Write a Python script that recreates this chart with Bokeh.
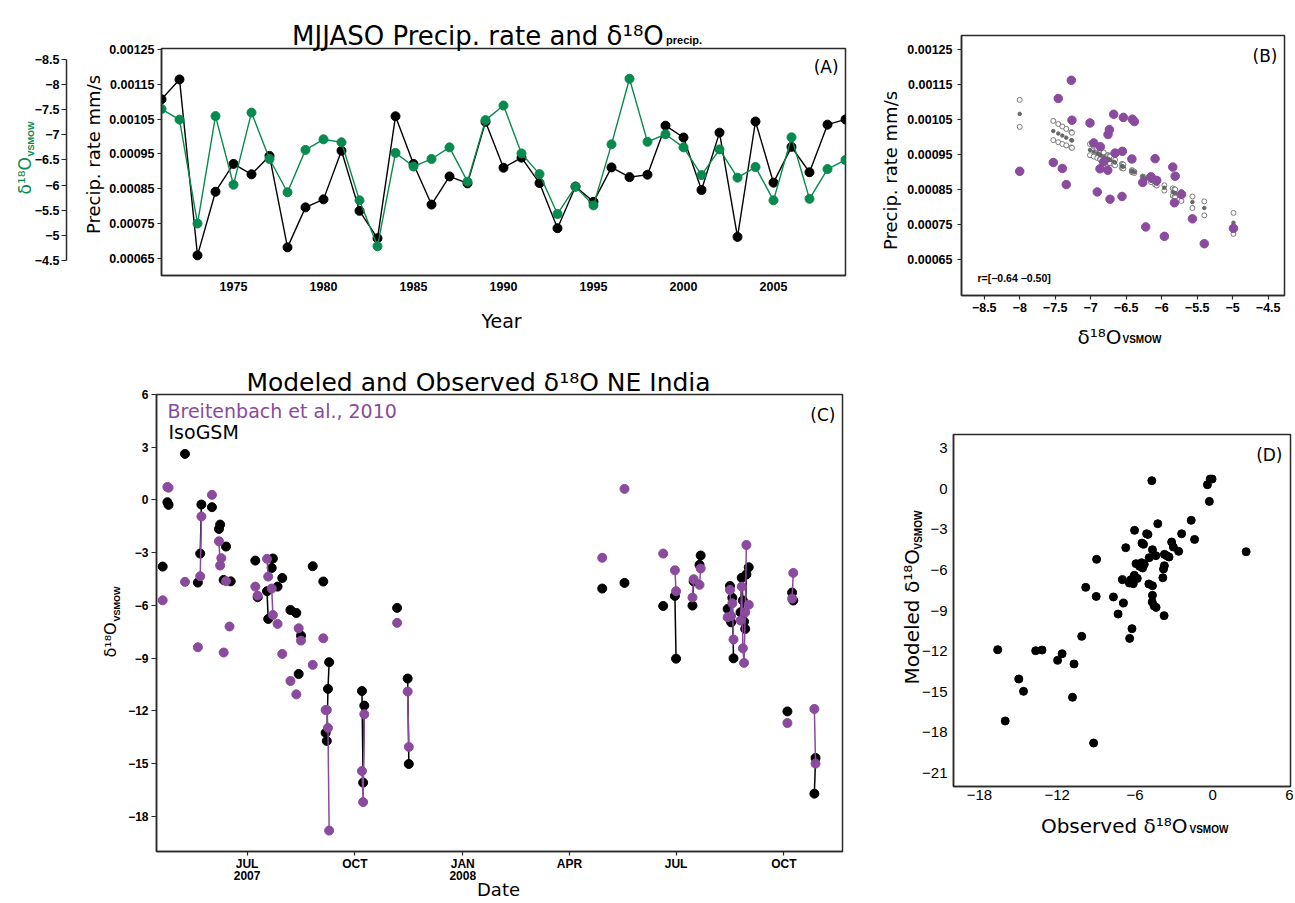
import pandas as pd
from bokeh.plotting import figure
from bokeh.models import Range1d, LinearAxis, FixedTicker, Label
from bokeh.layouts import row, column
from bokeh.embed import file_html
from bokeh.resources import INLINE

# ---------------- Panel A data ----------------
years = list(range(1971, 2010))
precip_rate = [0.001107, 0.001164, 0.000658, 0.000841, 0.000921, 0.000891, 0.000944, 0.000681,
               0.000796, 0.000819, 0.000959, 0.000786, 0.000707, 0.001058, 0.000921, 0.000804,
               0.000885, 0.000865, 0.001042, 0.000910, 0.000939, 0.000866, 0.000736, 0.000856,
               0.000812, 0.000911, 0.000883, 0.000890, 0.001031, 0.000997, 0.000846, 0.001011,
               0.000711, 0.001043, 0.000867, 0.000970, 0.000897, 0.001034, 0.001049]
d18o_precip = [-7.51, -7.30, -5.24, -7.37, -6.01, -7.44, -6.52, -5.86, -6.70, -6.91, -6.85, -5.70,
               -4.79, -6.64, -6.37, -6.52, -6.75, -6.07, -7.29, -7.58, -6.63, -6.22, -5.43, -5.97,
               -5.60, -6.81, -8.11, -6.86, -7.01, -6.75, -6.20, -6.71, -6.15, -6.36, -5.70, -6.95,
               -5.73, -6.32, -6.50]
year_ticks = [1975, 1980, 1985, 1990, 1995, 2000, 2005]
prec_ticks = [0.00065, 0.00075, 0.00085, 0.00095, 0.00105, 0.00115, 0.00125]
prec_tick_labels = ["0.00065", "0.00075", "0.00085", "0.00095", "0.00105", "0.00115", "0.00125"]
d18o_ticks = [-8.5, -8.0, -7.5, -7.0, -6.5, -6.0, -5.5, -5.0, -4.5]
d18o_tick_labels = ["\u22128.5", "\u22128", "\u22127.5", "\u22127", "\u22126.5", "\u22126",
                    "\u22125.5", "\u22125", "\u22124.5"]

# ---------------- Panel B data ----------------
b_d18o = [-8.00, -7.527, -7.457, -7.40, -7.344, -7.273, -7.264, -7.01, -6.958, -6.907, -6.869,
          -6.864, -6.817, -6.76, -6.756, -6.737, -6.728, -6.676, -6.657, -6.559, -6.554, -6.54,
          -6.42, -6.413, -6.385, -6.267, -6.225, -6.15, -6.093, -6.07, -5.962, -5.844, -5.82,
          -5.81, -5.722, -5.567, -5.40, -4.989]
b_precip = [0.000903, 0.000928, 0.001111, 0.000911, 0.000865, 0.001163, 0.001049, 0.001041,
            0.000984, 0.000844, 0.000910, 0.000973, 0.000930, 0.000906, 0.001008, 0.001022,
            0.000823, 0.001066, 0.000955, 0.000831, 0.000960, 0.001057, 0.000938, 0.001052,
            0.001045, 0.000871, 0.000744, 0.000887, 0.000939, 0.000877, 0.000717, 0.000915,
            0.000813, 0.000889, 0.000837, 0.000767, 0.000696, 0.000740]
b_fit = [0.001067, 0.001018, 0.001011, 0.001005, 0.000999, 0.000992, 0.000991, 0.000964,
         0.000959, 0.000954, 0.000950, 0.000949, 0.000944, 0.000939, 0.000938, 0.000936,
         0.000935, 0.000930, 0.000928, 0.000918, 0.000917, 0.000916, 0.000903, 0.000903,
         0.000900, 0.000888, 0.000883, 0.000876, 0.000870, 0.000867, 0.000856, 0.000844,
         0.000841, 0.000840, 0.000831, 0.000815, 0.000798, 0.000756]
b_fit_a = [0.001107, 0.001047, 0.001038, 0.001031, 0.001024, 0.001015, 0.001013, 0.000981,
           0.000975, 0.000968, 0.000963, 0.000963, 0.000957, 0.000949, 0.000949, 0.000947,
           0.000945, 0.000939, 0.000936, 0.000924, 0.000923, 0.000922, 0.000906, 0.000905,
           0.000902, 0.000887, 0.000881, 0.000872, 0.000865, 0.000862, 0.000848, 0.000833,
           0.000830, 0.000829, 0.000818, 0.000798, 0.000777, 0.000724]
b_fit_b = [0.001030, 0.000992, 0.000986, 0.000981, 0.000977, 0.000971, 0.000970, 0.000949,
           0.000945, 0.000941, 0.000938, 0.000937, 0.000933, 0.000929, 0.000928, 0.000927,
           0.000926, 0.000922, 0.000920, 0.000912, 0.000912, 0.000911, 0.000901, 0.000900,
           0.000898, 0.000888, 0.000885, 0.000879, 0.000874, 0.000872, 0.000863, 0.000854,
           0.000852, 0.000851, 0.000844, 0.000831, 0.000817, 0.000784]

# ---------------- Panel C data ----------------
isogsm_dates = ["2007-04-20", "2007-04-24", "2007-04-25", "2007-05-09", "2007-05-20", "2007-05-22",
                "2007-05-23", "2007-06-01", "2007-06-07", "2007-06-08", "2007-06-11", "2007-06-13",
                "2007-06-17", "2007-07-08", "2007-07-10", "2007-07-18", "2007-07-19", "2007-07-22",
                "2007-07-23", "2007-07-27", "2007-07-31", "2007-08-07", "2007-08-12", "2007-08-14",
                "2007-08-16", "2007-08-26", "2007-09-04", "2007-09-06", "2007-09-07", "2007-09-08",
                "2007-09-09", "2007-10-07", "2007-10-08", "2007-10-09", "2007-11-06", "2007-11-15",
                "2007-11-16", "2008-04-29", "2008-05-18", "2008-06-20", "2008-06-30", "2008-07-01",
                "2008-07-15", "2008-07-16", "2008-07-21", "2008-07-22", "2008-08-14", "2008-08-16",
                "2008-08-17", "2008-08-18", "2008-08-19", "2008-08-25", "2008-08-26", "2008-08-27",
                "2008-08-28", "2008-08-29", "2008-08-30", "2008-09-01", "2008-10-04", "2008-10-08",
                "2008-10-09", "2008-10-27", "2008-10-28"]
isogsm_d18o = [-3.79, -0.13, -0.28, 2.62, -4.70, -3.05, -0.26, -0.41, -1.65, -1.40, -4.55, -2.65,
               -4.63, -3.45, -5.53, -5.19, -6.77, -3.87, -3.33, -4.93, -4.44, -6.26, -6.43, -9.90,
               -7.72, -3.77, -4.64, -13.25, -13.71, -10.75, -9.23, -10.87, -16.08, -11.70, -6.14,
               -10.16, -15.02, -5.04, -4.72, -6.03, -5.46, -9.03, -6.01, -4.63, -3.69, -3.16,
               -6.20, -4.89, -6.96, -5.57, -9.01, -6.39, -4.43, -5.72, -6.92, -7.34, -4.24, -3.83,
               -12.03, -5.27, -5.72, -16.71, -14.68]
obs_dates = ["2007-04-20", "2007-04-24", "2007-04-25", "2007-05-09", "2007-05-20", "2007-05-22",
             "2007-05-23", "2007-06-01", "2007-06-07", "2007-06-08", "2007-06-09", "2007-06-11",
             "2007-06-13", "2007-06-16", "2007-07-08", "2007-07-10", "2007-07-18", "2007-07-19",
             "2007-07-22", "2007-07-23", "2007-07-27", "2007-07-31", "2007-08-07", "2007-08-12",
             "2007-08-14", "2007-08-16", "2007-08-26", "2007-09-04", "2007-09-06", "2007-09-07",
             "2007-09-08", "2007-09-09", "2007-10-07", "2007-10-08", "2007-10-09", "2007-11-06",
             "2007-11-15", "2007-11-16", "2008-04-29", "2008-05-18", "2008-06-20", "2008-06-30",
             "2008-07-01", "2008-07-15", "2008-07-16", "2008-07-21", "2008-07-22", "2008-08-14",
             "2008-08-16", "2008-08-17", "2008-08-18", "2008-08-19", "2008-08-25", "2008-08-26",
             "2008-08-27", "2008-08-28", "2008-08-29", "2008-08-30", "2008-09-01", "2008-10-04",
             "2008-10-08", "2008-10-09", "2008-10-27", "2008-10-28"]
obs_d18o = [-5.71, 0.74, 0.70, -4.66, -8.38, -4.34, -0.94, 0.29, -2.35, -3.73, -3.31, -8.68,
            -4.62, -7.20, -4.93, -5.44, -3.35, -4.36, -5.04, -6.54, -7.05, -8.76, -10.30, -11.06,
            -7.30, -8.00, -9.38, -7.87, -11.95, -11.95, -12.97, -18.81, -15.42, -17.19, -12.19,
            -6.99, -10.90, -14.05, -3.29, 0.63, -3.05, -4.00, -5.19, -5.55, -4.51, -4.83, -3.90,
            -6.67, -5.12, -6.60, -5.88, -7.94, -6.86, -4.93, -8.44, -9.27, -6.39, -2.56, -5.96,
            -12.69, -5.61, -4.15, -11.89, -15.00]
c_y_ticks = [6, 3, 0, -3, -6, -9, -12, -15, -18]
c_y_tick_labels = ["6", "3", "0", "\u22123", "\u22126", "\u22129", "\u221212", "\u221215", "\u221218"]
c_x_tick_dates = ["2007-07-01", "2007-10-01", "2008-01-01", "2008-04-01", "2008-07-01", "2008-10-01"]
c_x_tick_labels = ["JUL\n2007", "OCT", "JAN\n2008", "APR", "JUL", "OCT"]
c_x_limits = ["2007-04-15", "2008-11-20"]

# ---------------- Panel D data ----------------
d_observed = [-4.70, -0.41, -0.20, -0.05, -0.26, -1.66, -2.40, -1.40, -4.24, -6.03, -5.10, -5.00,
              -5.46, -5.34, -6.71, -4.65, -3.17, -3.04, -2.63, 2.58, -4.90, -4.39, -3.73, -3.55,
              -3.37, -8.96, -5.92, -5.49, -5.28, -5.64, -5.41, -3.73, -3.80, -6.05, -6.31, -6.43,
              -6.13, -5.82, -6.97, -3.85, -4.93, -4.65, -9.80, -8.99, -7.66, -4.65, -6.89, -4.67,
              -4.52, -4.37, -3.75, -7.30, -6.23, -6.41, -10.11, -16.59, -13.66, -13.17, -11.62,
              -11.97, -10.70, -14.96, -14.60, -10.82, -16.01, -9.19]
d_modeled = [0.59, 0.29, 0.71, 0.71, -0.94, -2.34, -3.33, -3.75, -2.59, -3.08, -3.33, -3.38,
             -4.02, -4.11, -4.36, -4.51, -3.94, -4.31, -4.63, -4.66, -5.10, -4.95, -4.85, -4.95,
             -5.05, -5.22, -5.54, -5.47, -5.59, -5.74, -5.86, -5.69, -5.94, -6.40, -6.72, -6.97,
             -7.02, -6.63, -6.72, -6.58, -7.04, -7.17, -7.29, -7.96, -8.00, -7.88, -8.45, -8.37,
             -8.67, -8.77, -9.38, -9.26, -10.34, -11.06, -10.91, -11.89, -11.97, -11.92, -12.19,
             -12.68, -12.95, -14.06, -14.97, -15.41, -17.16, -18.79]
d_x_ticks = [-18, -12, -6, 0, 6]
d_x_tick_labels = ["\u221218", "\u221212", "\u22126", "0", "6"]
d_y_ticks = [3, 0, -3, -6, -9, -12, -15, -18, -21]
d_y_tick_labels = ["3", "0", "\u22123", "\u22126", "\u22129", "\u221212", "\u221215", "\u221218", "\u221221"]

# ---------------- styling ----------------
PURPLE = "#8a4a9e"
GREEN = "#078a4e"
FRAME = "#2a2a2a"
TICKF = "Liberation Sans"
TEXTF = "DejaVu Sans"
ROT = 1.5707963267948966
D18 = "\u03b4\u00b9\u2078O"


def make_fig(w, h, l, r, t, b, xr, yr):
    p = figure(width=w, height=h, min_border_left=l, min_border_right=r, min_border_top=t,
               min_border_bottom=b, x_range=xr, y_range=yr, output_backend="svg",
               toolbar_location=None)
    try:
        p.frame_align = False
    except Exception:
        pass
    p.xgrid.visible = False
    p.ygrid.visible = False
    p.outline_line_color = FRAME
    p.outline_line_width = 1.5
    p.background_fill_color = "white"
    p.border_fill_color = "white"
    return p


def style_axis(ax, size="12.5px", bold=True, tick_out=4, standoff=3, font=TICKF):
    ax.major_label_text_font = font
    ax.major_label_text_font_size = size
    ax.major_label_text_font_style = "bold" if bold else "normal"
    ax.major_label_text_color = "black"
    ax.major_tick_out = tick_out
    ax.major_tick_in = 0
    ax.minor_tick_line_color = None
    ax.major_tick_line_color = FRAME
    ax.major_tick_line_width = 1.2
    ax.axis_line_color = FRAME
    ax.axis_line_width = 1.5
    ax.major_label_standoff = standoff


def txt(p, geom, side, px, py, text, size, color="black", font=TEXTF, align="left",
        baseline="middle", angle=0.0, bold=False):
    """Place a label at page pixel (px, py) through the figure's own data scales."""
    fl, fr, ft, fb = geom
    xr, yr = p.x_range, p.y_range
    x = xr.start + (px - fl) / (fr - fl) * (xr.end - xr.start)
    y = yr.start + (fb - py) / (fb - ft) * (yr.end - yr.start)
    lab = Label(x=x, y=y, x_units="data", y_units="data", text=text, text_font=font,
                text_font_size=f"{size}px", text_color=color, text_align=align,
                text_baseline=baseline, angle=angle,
                text_font_style="bold" if bold else "normal")
    if side == "center":
        p.add_layout(lab)
    else:
        p.add_layout(lab, side)


# ---------------- Panel A ----------------
GA = (159, 845, 48, 275)
pa = make_fig(870, 340, 159, 25, 48, 65, Range1d(1971, 2009), Range1d(0.0006, 0.001253))
style_axis(pa.xaxis[0], tick_out=0, standoff=6)
pa.xaxis[0].ticker = FixedTicker(ticks=year_ticks)
ya = pa.yaxis[0]
style_axis(ya, tick_out=4, standoff=3)
ya.ticker = FixedTicker(ticks=prec_ticks)
ya.major_label_overrides = dict(zip(prec_ticks, prec_tick_labels))
ya.axis_label = "\u00a0"
ya.axis_label_text_font_size = "18px"
ya.axis_label_standoff = 17
pa.extra_y_ranges = {"d18o": Range1d(start=-4.21, end=-8.71)}
ax2 = LinearAxis(y_range_name="d18o", ticker=FixedTicker(ticks=d18o_ticks),
                 major_label_overrides=dict(zip(d18o_ticks, d18o_tick_labels)),
                 bounds=(-8.5, -4.5))
style_axis(ax2, tick_out=5, standoff=2)
pa.add_layout(ax2, "left")

pa.line(years, precip_rate, line_color="black", line_width=1.4)
pa.scatter(years, precip_rate, size=9, marker="circle", fill_color="black", line_color="black")
pa.line(years, d18o_precip, line_color=GREEN, line_width=1.4, y_range_name="d18o")
pa.scatter(years, d18o_precip, size=9, marker="circle", fill_color=GREEN, line_color=GREEN,
           y_range_name="d18o")

txt(pa, GA, "above", 290, 35, "MJJASO Precip. rate and " + D18, 26, align="left",
    baseline="alphabetic")
txt(pa, GA, "above", 665, 39, "precip.", 11, align="left", baseline="alphabetic", bold=True,
    font=TICKF)
txt(pa, GA, "below", 500, 320, "Year", 19, align="center", baseline="alphabetic")
txt(pa, GA, "left", 91, 154, "Precip. rate mm/s", 18, align="center", angle=ROT)
txt(pa, GA, "left", 28, 156, "VSMOW", 9, color=GREEN, align="left", angle=ROT, bold=True,
    font=TICKF)
txt(pa, GA, "right", 22, 194, D18, 17, color=GREEN, align="left", angle=ROT)
txt(pa, GA, "center", 838, 66, "(A)", 17, align="right")

# ---------------- Panel B ----------------
GB = (961, 1284, 35, 295)
pb = make_fig(423, 348, 91, 9, 35, 53, Range1d(-8.82, -4.27), Range1d(0.000548, 0.001291))
style_axis(pb.xaxis[0], tick_out=4, standoff=3)
pb.xaxis[0].ticker = FixedTicker(ticks=d18o_ticks)
pb.xaxis[0].major_label_overrides = dict(zip(d18o_ticks, d18o_tick_labels))
style_axis(pb.yaxis[0], tick_out=4, standoff=5)
pb.yaxis[0].ticker = FixedTicker(ticks=prec_ticks)
pb.yaxis[0].major_label_overrides = dict(zip(prec_ticks, prec_tick_labels))

pb.scatter(b_d18o, b_fit_a, size=5, marker="circle", fill_color="white", line_color="#7a7a7a",
           line_width=1)
pb.scatter(b_d18o, b_fit_b, size=5, marker="circle", fill_color="white", line_color="#7a7a7a",
           line_width=1)
pb.scatter(b_d18o, b_fit, size=3.5, marker="circle", fill_color="#666666", line_color="#666666")
pb.scatter(b_d18o, b_precip, size=8.5, marker="circle", fill_color=PURPLE, line_color=PURPLE)

txt(pb, GB, "left", 890, 170, "Precip. rate mm/s", 18, align="center", angle=ROT)
txt(pb, GB, "below", 1121, 336, D18, 20, align="right", baseline="alphabetic")
txt(pb, GB, "above", 1122, 339, "VSMOW", 10, align="left", baseline="alphabetic", bold=True,
    font=TICKF)
txt(pb, GB, "center", 1277, 55, "(B)", 17, align="right")
txt(pb, GB, "center", 977, 277, "r=[\u22120.64 \u22120.50]", 10.5, align="left", bold=True,
    font=TICKF)

# ---------------- Panel C ----------------
ORIGIN = pd.Timestamp("2007-07-01")


def to_days(dates):
    return [float(v) for v in (pd.to_datetime(dates) - ORIGIN).days]


def runs(days, vals):
    xs, ys = [], []
    cx, cy = [days[0]], [vals[0]]
    for i in range(1, len(days)):
        if days[i] - days[i - 1] == 1:
            cx.append(days[i])
            cy.append(vals[i])
        else:
            if len(cx) > 1:
                xs.append(cx)
                ys.append(cy)
            cx, cy = [days[i]], [vals[i]]
    if len(cx) > 1:
        xs.append(cx)
        ys.append(cy)
    return xs, ys


GC = (156, 842, 394, 851)
lim = to_days(c_x_limits)
pc = make_fig(870, 561, 156, 28, 54, 50, Range1d(lim[0] - 0.3, lim[1]), Range1d(-20, 6))
style_axis(pc.xaxis[0], size="12px", tick_out=4, standoff=1)
tick_days = to_days(c_x_tick_dates)
pc.xaxis[0].ticker = FixedTicker(ticks=tick_days)
pc.xaxis[0].major_label_overrides = dict(zip(tick_days, c_x_tick_labels))
pc.xaxis[0].major_label_text_line_height = 0.9
style_axis(pc.yaxis[0], size="12px", tick_out=5, standoff=3)
pc.yaxis[0].ticker = FixedTicker(ticks=c_y_ticks)
pc.yaxis[0].major_label_overrides = dict(zip(c_y_ticks, c_y_tick_labels))

iso_days = to_days(isogsm_dates)
obs_days = to_days(obs_dates)
bx, by = runs(iso_days, isogsm_d18o)
pc.multi_line(bx, by, line_color="black", line_width=1.5)
pc.scatter(iso_days, isogsm_d18o, size=9, marker="circle", fill_color="black", line_color="black")
ox, oy = runs(obs_days, obs_d18o)
pc.multi_line(ox, oy, line_color=PURPLE, line_width=1.5)
pc.scatter(obs_days, obs_d18o, size=9, marker="circle", fill_color=PURPLE, line_color=PURPLE)

txt(pc, GC, "above", 478, 382, "Modeled and Observed " + D18 + " NE India", 25,
    align="center", baseline="alphabetic")
txt(pc, GC, "above", 498, 889, "Date", 18, align="center")
txt(pc, GC, "left", 110, 657, D18, 16, align="left", angle=ROT)
txt(pc, GC, "left", 116, 621, "VSMOW", 9, align="left", angle=ROT, bold=True, font=TICKF)
txt(pc, GC, "center", 167, 410, "Breitenbach et al., 2010", 19, color=PURPLE, align="left")
txt(pc, GC, "center", 168, 431, "IsoGSM", 19, align="left")
txt(pc, GC, "center", 835, 414, "(C)", 17, align="right")

# ---------------- Panel D ----------------
GD = (953, 1290, 434, 786)
pd_ = make_fig(423, 553, 83, 3, 86, 115, Range1d(-20, 6), Range1d(-22, 4))
style_axis(pd_.xaxis[0], size="15px", bold=False, tick_out=0, standoff=3)
pd_.xaxis[0].ticker = FixedTicker(ticks=d_x_ticks)
pd_.xaxis[0].major_label_overrides = dict(zip(d_x_ticks, d_x_tick_labels))
style_axis(pd_.yaxis[0], size="15px", bold=False, tick_out=0, standoff=6)
pd_.yaxis[0].ticker = FixedTicker(ticks=d_y_ticks)
pd_.yaxis[0].major_label_overrides = dict(zip(d_y_ticks, d_y_tick_labels))

pd_.scatter(d_observed, d_modeled, size=8, marker="circle", fill_color="black", line_color="black")

txt(pd_, GD, "below", 1187, 825, "Observed " + D18, 20, align="right", baseline="alphabetic")
txt(pd_, GD, "below", 1189, 829, "VSMOW", 10, align="left", baseline="alphabetic", bold=True,
    font=TICKF)
txt(pd_, GD, "left", 911, 684, "Modeled " + D18, 20, align="left", angle=ROT)
txt(pd_, GD, "left", 918, 549, "VSMOW", 10, align="left", angle=ROT, bold=True, font=TICKF)
txt(pd_, GD, "center", 1282, 454, "(D)", 17, align="right")

layout = row(column(pa, pc), column(pb, pd_))
open("out.html", "w").write(file_html(layout, INLINE))
